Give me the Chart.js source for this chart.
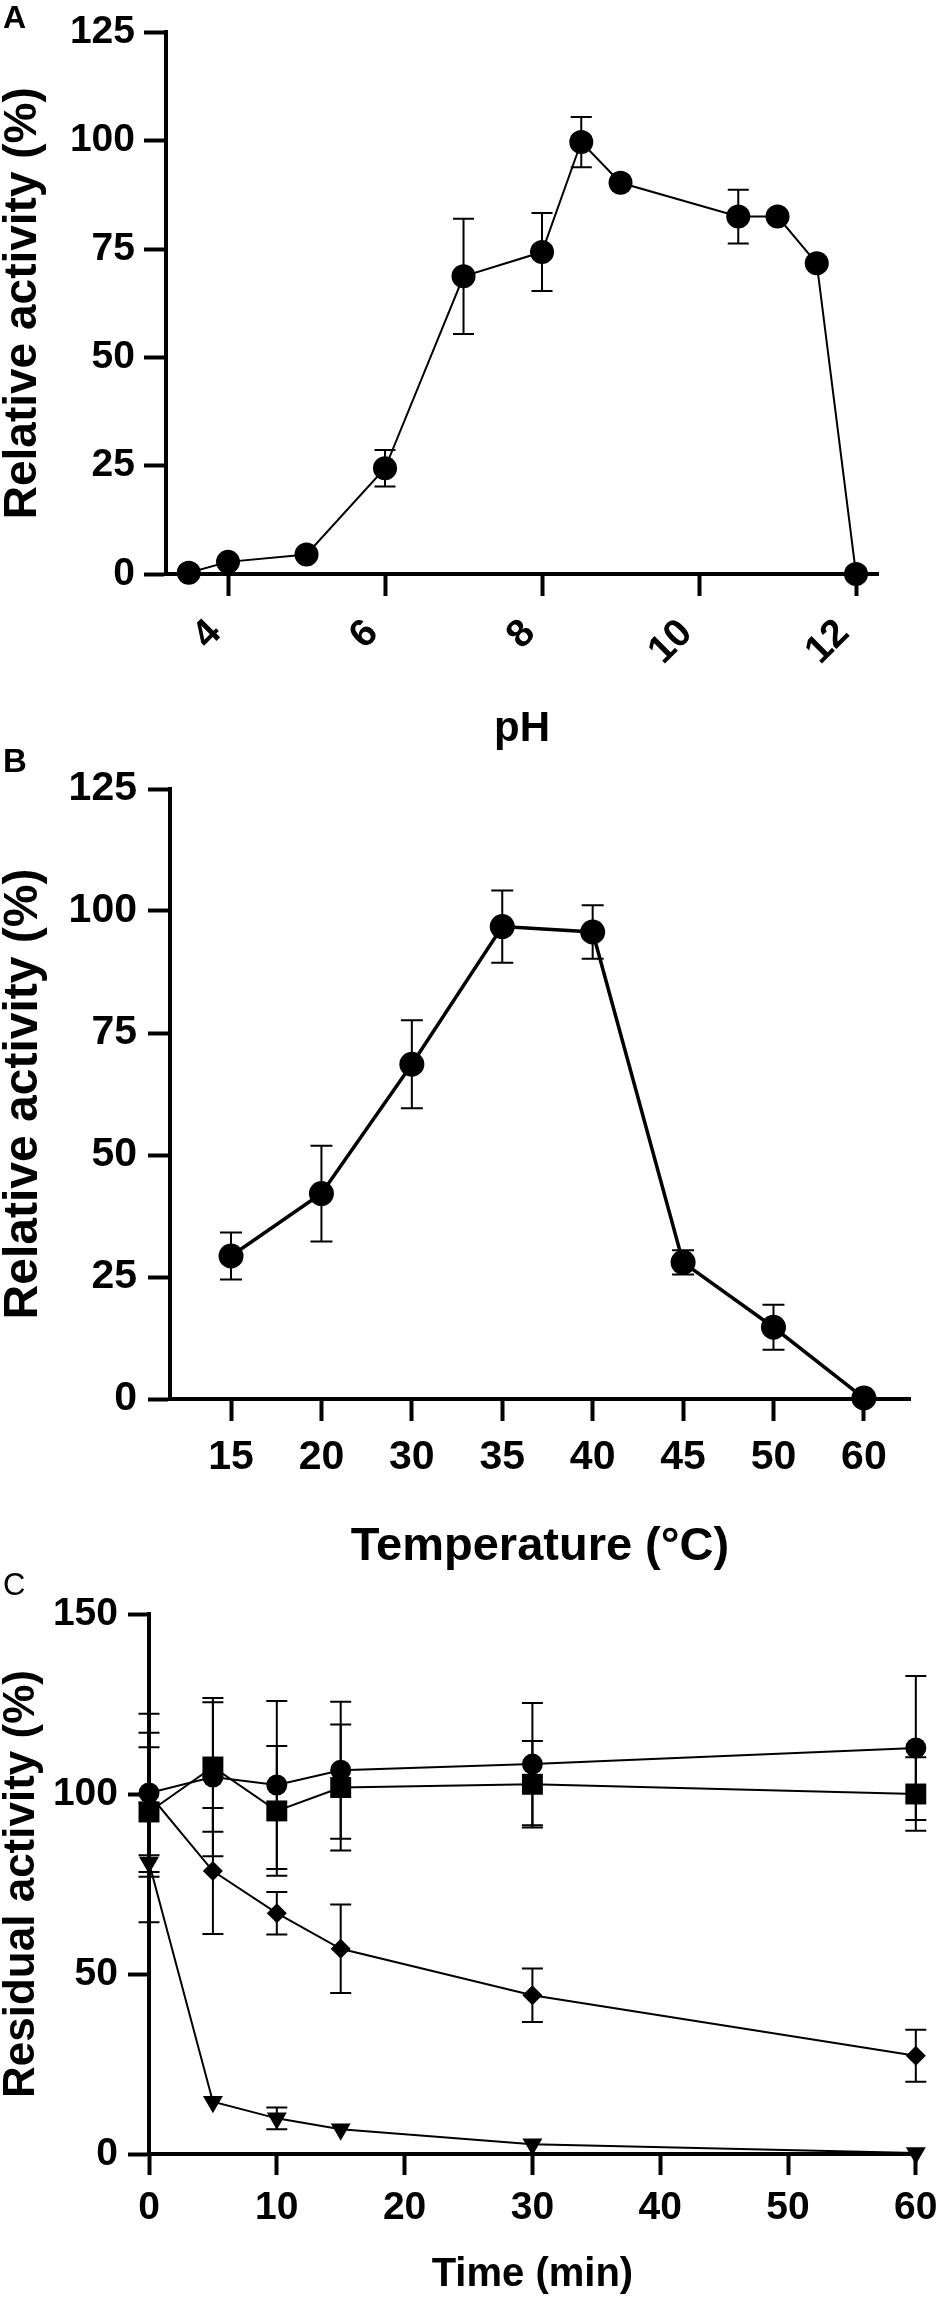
<!DOCTYPE html>
<html>
<head>
<meta charset="utf-8">
<script src="https://cdn.jsdelivr.net/npm/chart.js@4.4.1/dist/chart.umd.min.js"></script>
<style>
html,body{margin:0;padding:0;background:#fff;}
body{width:947px;height:2302px;position:relative;overflow:hidden;}
.panel{position:absolute;left:0;width:947px;}
.lbl{position:absolute;left:3px;font-family:'Liberation Sans',Arial,sans-serif;color:#000;line-height:1;}
</style>
</head>
<body>
<div class="panel" style="top:0;height:760px"><canvas id="cA" width="947" height="760"></canvas></div>
<div class="panel" style="top:740px;height:840px"><canvas id="cB" width="947" height="840"></canvas></div>
<div class="panel" style="top:1560px;height:742px"><canvas id="cC" width="947" height="742"></canvas></div>
<div class="lbl" style="top:1px;font-size:32px;font-weight:bold;">A</div>
<div class="lbl" style="top:744px;font-size:33px;font-weight:bold;">B</div>
<div class="lbl" style="top:1569px;font-size:31px;">C</div>
<script>
// ---------- data ----------
const phValues   = [3.5, 4, 5, 6, 7, 8, 8.5, 9, 10.5, 11, 11.5, 12];
const phActivity = [0.3, 2.8, 4.5, 24.4, 68.7, 74.3, 99.7, 90.3, 82.5, 82.5, 71.7, 0];
const phError    = [0, 0, 0, 4.2, 13.3, 9.0, 5.8, 0, 6.2, 0, 0, 0];
const phTicks    = [4, 6, 8, 10, 12];

const tempCategories = ['15', '20', '30', '35', '40', '45', '50', '60'];
const tempActivity   = [29.3, 42.1, 68.6, 96.8, 95.7, 28.0, 14.7, 0.2];
const tempError      = [4.8, 9.8, 9.0, 7.4, 5.5, 2.5, 4.6, 0];

const activityTicks = [0, 25, 50, 75, 100, 125];

const timeValues     = [0, 5, 10, 15, 30, 60];
const circleResidual = [100.3, 104.7, 102.5, 106.6, 108.3, 112.8];
const circleError    = [22, 22, 23.3, 19, 17, 20];
const squareResidual = [95, 107.5, 95.3, 101.8, 102.7, 100];
const squareError    = [18, 18, 18, 17.5, 12, 10.2];
const diamondResidual = [100, 78.6, 66.9, 57, 44.1, 27.3];
const diamondError    = [17, 17.5, 5.9, 12.3, 7.4, 7.2];
const triangleResidual = [81, 14.5, 9.9, 6.9, 2.7, 0.3];
const triangleError    = [16.6, 0, 3, 0, 0, 0];
const timeTicks     = [0, 10, 20, 30, 40, 50, 60];
const residualTicks = [0, 50, 100, 150];

// ---------- helpers ----------
const FONT = "'Liberation Sans', Arial, sans-serif";

const errorBarPlugin = {
  id: 'errorBars',
  beforeDatasetsDraw(chart) {
    const ctx = chart.ctx, xs = chart.scales.x, ys = chart.scales.y;
    chart.data.datasets.forEach(ds => {
      if (!ds.errors) return;
      ctx.save();
      ctx.strokeStyle = '#000';
      ctx.lineWidth = ds.errorWidth || 2;
      ds.data.forEach((pt, j) => {
        const e = ds.errors[j];
        if (!e) return;
        const x = xs.getPixelForValue(pt.x);
        const y1 = ys.getPixelForValue(pt.y + e);
        const y2 = ys.getPixelForValue(pt.y - e);
        const hw = ds.capHalf || 10;
        ctx.beginPath();
        ctx.moveTo(x, y1); ctx.lineTo(x, y2);
        ctx.moveTo(x - hw, y1); ctx.lineTo(x + hw, y1);
        ctx.moveTo(x - hw, y2); ctx.lineTo(x + hw, y2);
        ctx.stroke();
      });
      ctx.restore();
    });
  }
};

function pts(xs, ys) { return xs.map((x, i) => ({x: x, y: ys[i]})); }

function yAxis(ticksArr, width, tickLen, pad, tickFont, title, titleSize) {
  return {
    type: 'linear', position: 'left',
    min: ticksArr[0], max: ticksArr[ticksArr.length - 1],
    afterBuildTicks: s => { s.ticks = ticksArr.map(v => ({value: v})); },
    afterFit: s => { s.width = width; },
    grid: {drawOnChartArea: false, drawTicks: true, tickLength: tickLen, tickWidth: 4, tickColor: '#000'},
    border: {display: true, color: '#000', width: 4},
    ticks: {color: '#000', font: tickFont, padding: pad, autoSkip: false},
    title: {display: true, text: title, color: '#000',
            font: {family: FONT, size: titleSize, weight: 'bold', lineHeight: 1}, padding: {top: 0, bottom: 0}}
  };
}

function xAxis(min, max, ticksArr, height, tickLen, pad, tickFont, title, titleFont, titlePad) {
  return {
    type: 'linear', position: 'bottom', min: min, max: max,
    afterBuildTicks: s => { s.ticks = ticksArr.map(v => ({value: v})); },
    afterFit: s => { s.height = height; },
    grid: {drawOnChartArea: false, drawTicks: true, tickLength: tickLen, tickWidth: 4, tickColor: '#000'},
    border: {display: true, color: '#000', width: 4},
    ticks: {color: '#000', font: tickFont, padding: pad, autoSkip: false, maxRotation: 0, minRotation: 0},
    title: {display: true, text: title, color: '#000', font: titleFont, padding: {top: 0, bottom: titlePad}}
  };
}

const baseOpts = {
  responsive: false, animation: false, devicePixelRatio: 1,
  plugins: {legend: {display: false}, tooltip: {enabled: false}}
};

// ---------- Panel A ----------
const xA = xAxis(3.21, 12.28, phTicks, 186, 22, 14.5, {family: FONT, size: 39, weight: 'bold'},
  'pH', {family: FONT, size: 42, weight: 'bold', lineHeight: 1}, 10);
xA.ticks.minRotation = 45; xA.ticks.maxRotation = 45; xA.ticks.labelOffset = -12.7;

new Chart(document.getElementById('cA'), {
  type: 'line',
  data: {datasets: [{
    data: pts(phValues, phActivity), errors: phError, capHalf: 10.5, errorWidth: 2,
    borderColor: '#000', borderWidth: 2, backgroundColor: '#000',
    pointStyle: 'circle', pointRadius: 12, pointBackgroundColor: '#000', pointBorderWidth: 0,
    tension: 0, clip: false
  }]},
  options: Object.assign({}, baseOpts, {
    layout: {padding: {top: 15, left: 0, right: 69, bottom: 0}},
    scales: {
      x: xA,
      y: yAxis(activityTicks, 166, 22, 9, {family: FONT, size: 39, weight: 'bold'}, 'Relative activity (%)', 46)
    }
  }),
  plugins: [errorBarPlugin]
});

// ---------- Panel B ----------
const xB = xAxis(-0.675, 7.51, tempCategories.map((c, i) => i), 181, 22, 12, {family: FONT, size: 41, weight: 'bold'},
  'Temperature (°C)', {family: FONT, size: 47, weight: 'bold', lineHeight: 1}, 9);
xB.ticks.callback = v => tempCategories[v];

new Chart(document.getElementById('cB'), {
  type: 'line',
  data: {datasets: [{
    data: pts(tempCategories.map((c, i) => i), tempActivity), errors: tempError, capHalf: 11, errorWidth: 2,
    borderColor: '#000', borderWidth: 3.5, backgroundColor: '#000',
    pointStyle: 'circle', pointRadius: 12.5, pointBackgroundColor: '#000', pointBorderWidth: 0,
    tension: 0, clip: false
  }]},
  options: Object.assign({}, baseOpts, {
    layout: {padding: {top: 49, left: 0, right: 37, bottom: 0}},
    scales: {
      x: xB,
      y: yAxis(activityTicks, 170, 22, 11, {family: FONT, size: 41, weight: 'bold'}, 'Relative activity (%)', 48)
    }
  }),
  plugins: [errorBarPlugin]
});

// ---------- Panel C ----------
function cSet(vals, errs, style, radius, rot, order) {
  return {
    data: pts(timeValues, vals), errors: errs, capHalf: 10.5, errorWidth: 2,
    borderColor: '#000', borderWidth: 2, backgroundColor: '#000',
    pointStyle: style, pointRadius: radius, pointRotation: rot, pointBackgroundColor: '#000', pointBorderWidth: 0,
    tension: 0, clip: false, order: order
  };
}

new Chart(document.getElementById('cC'), {
  type: 'line',
  data: {datasets: [
    cSet(circleResidual, circleError, 'circle', 10.5, 0, 1),
    cSet(squareResidual, squareError, 'rect', 14.8, 0, 0),
    cSet(diamondResidual, diamondError, 'rectRot', 10, 0, 2),
    cSet(triangleResidual, triangleError, 'triangle', 11.5, 180, 3)
  ]},
  options: Object.assign({}, baseOpts, {
    layout: {padding: {top: 54, left: 0, right: 24, bottom: 0}},
    scales: {
      x: xAxis(0, 60, timeTicks, 148, 21, 9.5, {family: FONT, size: 39, weight: 'bold'},
        'Time (min)', {family: FONT, size: 40, weight: 'bold', lineHeight: 1}, 7),
      y: yAxis(residualTicks, 149, 21, 10, {family: FONT, size: 39, weight: 'bold'}, 'Residual activity (%)', 44)
    }
  }),
  plugins: [errorBarPlugin]
});
</script>
</body>
</html>
